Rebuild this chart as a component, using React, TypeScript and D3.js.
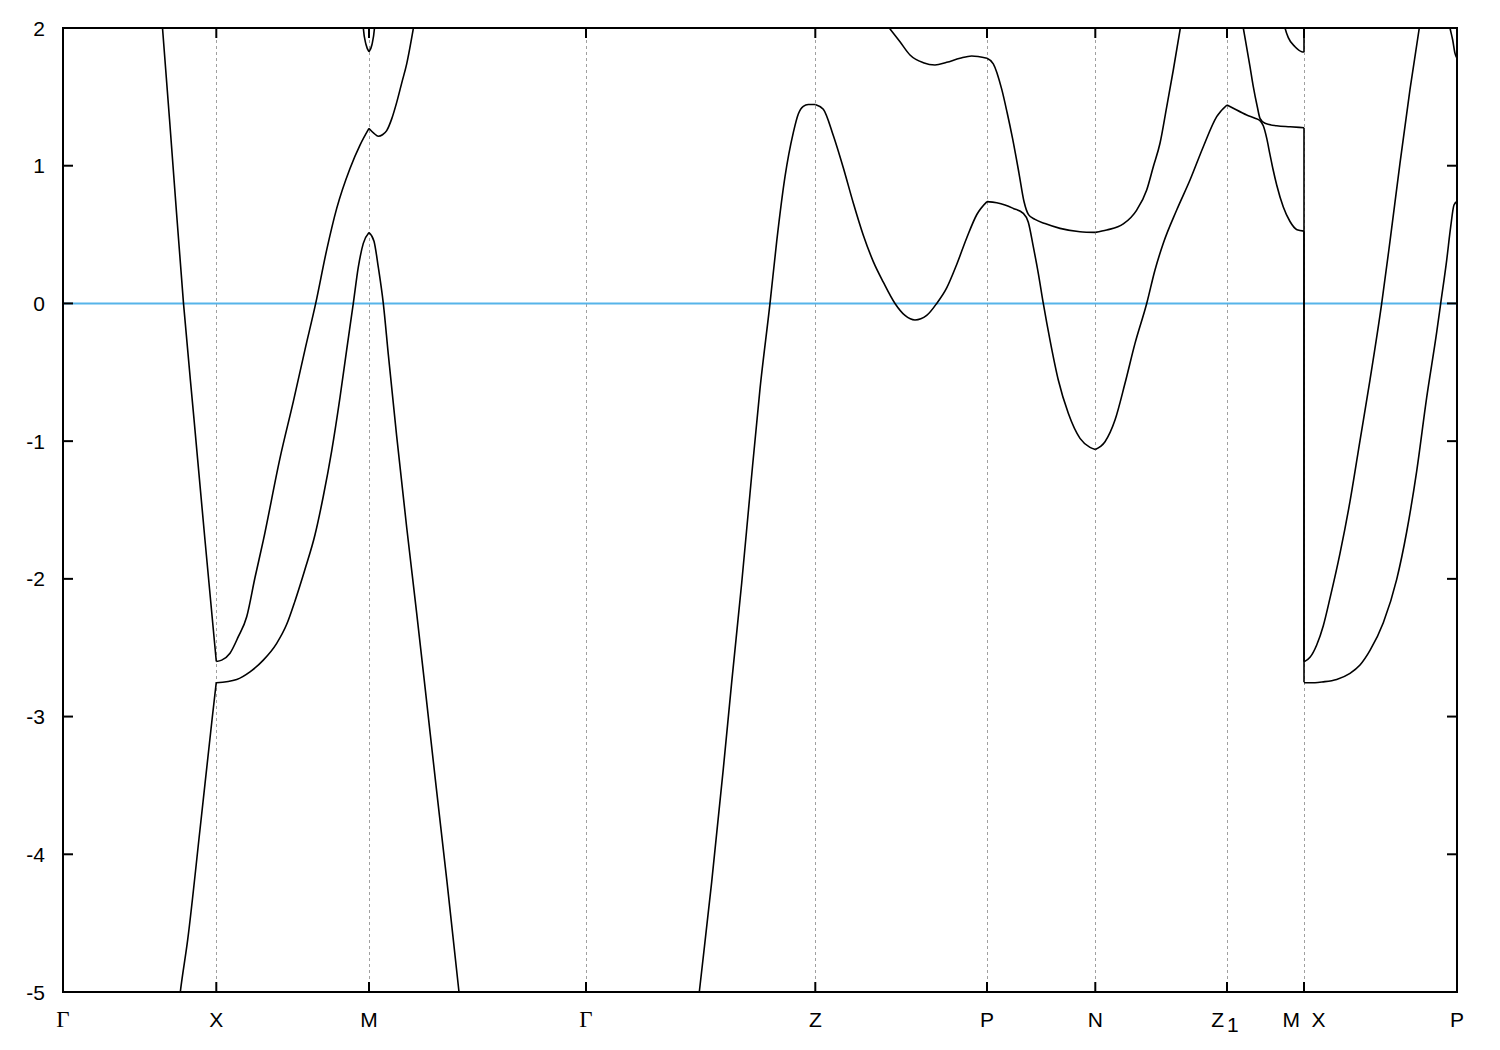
import React from "react";
import * as d3 from "d3";

// k-path tick positions and labels
const tickPos = [0, 1.533, 3.06, 5.23, 7.523, 9.24, 10.323, 11.64, 12.41, 13.94];
const tickLabels = ["Γ", "X", "M", "Γ", "Z", "P", "N", "Z_1", "M  X", "P"];
const yTicks = [-5, -4, -3, -2, -1, 0, 1, 2];
const kMax = 13.94;
const eMin = -5;
const eMax = 2;
const fermi = 0;

type Pt = [number, number];

// Γ → X
const bandsGX: Pt[][] = [
  [[0.87, 3.0], [0.995, 2.0], [1.1, 1.0], [1.205, 0], [1.31, -0.84], [1.42, -1.72], [1.533, -2.6]],
  [[1.12, -5.35], [1.173, -5.0], [1.247, -4.62], [1.37, -3.82], [1.49, -3.025], [1.533, -2.75]],
];

// X → M
const bandsXM: Pt[][] = [
  [[1.533, -2.6], [1.587, -2.59], [1.67, -2.54], [1.753, -2.42], [1.837, -2.275], [1.92, -1.99], [2.003, -1.721],
   [2.17, -1.123], [2.303, -0.713], [2.42, -0.335], [2.527, 0], [2.637, 0.389], [2.737, 0.69], [2.87, 0.98],
   [2.97, 1.15], [3.06, 1.271]],
  [[1.533, -2.754], [1.737, -2.73], [1.87, -2.675], [2.003, -2.59], [2.137, -2.468], [2.237, -2.33], [2.32, -2.16],
   [2.42, -1.93], [2.52, -1.68], [2.603, -1.4], [2.687, -1.07], [2.77, -0.682], [2.837, -0.335], [2.903, 0],
   [2.953, 0.263], [3.003, 0.436], [3.06, 0.515]],
  [[2.98, 2.3], [3.003, 2.0], [3.03, 1.88], [3.06, 1.828]],
];

// M → Γ
const bandsMG: Pt[][] = [
  [[3.06, 1.271], [3.11, 1.235], [3.153, 1.214], [3.195, 1.225], [3.237, 1.255], [3.287, 1.34], [3.337, 1.46],
   [3.387, 1.6], [3.437, 1.74], [3.503, 1.995], [3.55, 2.2]],
  [[3.06, 0.515], [3.11, 0.452], [3.153, 0.263], [3.203, 0], [3.253, -0.37], [3.337, -0.965], [3.437, -1.627],
   [3.537, -2.25], [3.63, -2.85], [3.73, -3.5], [3.84, -4.2], [3.96, -5.0], [4.03, -5.45]],
  [[3.06, 1.828], [3.09, 1.88], [3.115, 2.0], [3.14, 2.3]],
];

// Γ → Z
const bandsGZ: Pt[][] = [
  [[6.31, -5.35], [6.363, -5.0], [6.487, -4.2], [6.603, -3.38], [6.687, -2.75], [6.787, -2.03], [6.87, -1.38],
   [6.97, -0.62], [7.07, 0], [7.137, 0.45], [7.22, 0.92], [7.303, 1.24], [7.353, 1.375], [7.403, 1.431],
   [7.453, 1.444], [7.523, 1.445]],
];

// Z → P
const bandsZP: Pt[][] = [
  [[7.523, 1.445], [7.603, 1.41], [7.703, 1.219], [7.803, 0.985], [7.903, 0.729], [8.003, 0.495], [8.103, 0.304],
   [8.203, 0.155], [8.32, 0], [8.42, -0.087], [8.52, -0.12], [8.637, -0.087], [8.737, 0], [8.837, 0.113],
   [8.937, 0.283], [9.037, 0.475], [9.137, 0.644], [9.24, 0.739]],
  [[8.17, 2.09], [8.263, 2.0], [8.37, 1.9], [8.47, 1.804], [8.603, 1.748], [8.72, 1.731], [8.837, 1.751],
   [8.97, 1.78], [9.087, 1.797], [9.24, 1.78]],
];

// P → N
const bandsPN: Pt[][] = [
  [[9.24, 1.78], [9.303, 1.74], [9.387, 1.556], [9.44, 1.39], [9.495, 1.2], [9.56, 0.945], [9.61, 0.74],
   [9.655, 0.645], [9.72, 0.61], [9.82, 0.58], [9.97, 0.545], [10.17, 0.521], [10.323, 0.516]],
  [[9.24, 0.739], [9.337, 0.731], [9.42, 0.715], [9.503, 0.69], [9.603, 0.654], [9.653, 0.59], [9.703, 0.412],
   [9.753, 0.219], [9.803, 0], [9.87, -0.266], [9.953, -0.556], [10.053, -0.798], [10.17, -0.98],
   [10.27, -1.045], [10.323, -1.06]],
];

// N → Z1
const bandsNZ1: Pt[][] = [
  [[10.323, -1.06], [10.42, -1.004], [10.52, -0.847], [10.62, -0.58], [10.72, -0.29], [10.837, 0], [10.92, 0.243],
   [11.003, 0.437], [11.137, 0.678], [11.27, 0.896], [11.403, 1.138], [11.537, 1.356], [11.64, 1.441]],
  [[10.323, 0.516], [10.437, 0.533], [10.603, 0.577], [10.737, 0.678], [10.837, 0.824], [10.903, 0.993],
   [10.97, 1.163], [11.037, 1.428], [11.103, 1.695], [11.17, 1.985], [11.2, 2.12]],
];

// Z1 → M
const bandsZ1M: Pt[][] = [
  [[11.64, 1.441], [11.703, 1.417], [11.837, 1.368], [11.92, 1.345], [11.97, 1.327], [12.003, 1.29],
   [12.037, 1.2], [12.07, 1.08], [12.103, 0.965], [12.137, 0.86], [12.203, 0.7], [12.27, 0.595],
   [12.34, 0.535], [12.41, 0.525]],
  [[11.76, 2.18], [11.803, 2.0], [11.87, 1.72], [11.903, 1.574], [11.943, 1.428], [11.97, 1.344], [12.02, 1.308],
   [12.137, 1.29], [12.27, 1.283], [12.41, 1.276]],
  [[12.19, 2.1], [12.22, 2.0], [12.253, 1.93], [12.32, 1.864], [12.387, 1.828], [12.41, 1.826]],
];

// connecting jumps at the M | X discontinuity
const jumpsMX: Pt[][] = [
  [[12.41, 1.276], [12.41, -2.6]],
  [[12.41, 0.525], [12.41, -2.75]],
  [[12.41, 1.826], [12.41, 2.5]],
];

// X → P
const bandsXP: Pt[][] = [
  [[12.41, -2.603], [12.47, -2.57], [12.537, -2.48], [12.603, -2.34], [12.67, -2.14], [12.77, -1.815],
   [12.87, -1.438], [12.97, -0.996], [13.07, -0.555], [13.187, 0], [13.27, 0.452], [13.37, 1.019],
   [13.47, 1.554], [13.563, 2.0], [13.62, 2.3]],
  [[12.41, -2.754], [12.52, -2.754], [12.603, -2.748], [12.737, -2.73], [12.87, -2.686], [12.97, -2.626],
   [13.07, -2.52], [13.203, -2.319], [13.337, -2.004], [13.437, -1.658], [13.537, -1.217], [13.637, -0.682],
   [13.737, -0.209], [13.777, 0], [13.837, 0.315], [13.877, 0.557], [13.91, 0.715], [13.94, 0.74]],
  [[13.84, 2.12], [13.87, 2.0], [13.897, 1.913], [13.92, 1.816], [13.94, 1.78]],
];

const allSegments = [bandsGX, bandsXM, bandsMG, bandsGZ, bandsZP, bandsPN, bandsNZ1, bandsZ1M, bandsXP];

const W = 1500;
const H = 1050;
const L = 63, R = 1457, T = 28, B = 992;
const FONT = "'Liberation Sans', Arial, Helvetica, sans-serif";
const FS = 21;

export default function App() {
  const x = d3.scaleLinear().domain([0, kMax]).range([L, R]);
  const y = d3.scaleLinear().domain([eMin, eMax]).range([B, T]);
  const smooth = d3.line<Pt>().x((d) => x(d[0])).y((d) => y(d[1])).curve(d3.curveMonotoneX);
  const straight = d3.line<Pt>().x((d) => x(d[0])).y((d) => y(d[1]));
  const tickLen = 10;

  const renderLabel = (lab: string, i: number) => {
    const px = x(tickPos[i]);
    const py = 1027;
    if (lab === "Γ") {
      return (
        <text key={i} x={px} y={py} textAnchor="middle" fontFamily="'Liberation Serif', 'Times New Roman', serif" fontSize={23}>
          Γ
        </text>
      );
    }
    if (lab.includes("_")) {
      const [main, sub] = lab.split("_");
      return (
        <text key={i} x={px - 2} y={py} textAnchor="middle" fontFamily={FONT} fontSize={FS}>
          {main}
          <tspan dx={3} dy={5}>{sub}</tspan>
        </text>
      );
    }
    return (
      <text key={i} x={px} y={py} textAnchor="middle" fontFamily={FONT} fontSize={FS} style={{ whiteSpace: "pre" }}>
        {lab}
      </text>
    );
  };

  return (
    <svg width={W} height={H} style={{ position: "absolute", left: 0, top: 0, background: "#fff" }}>
      <defs>
        <clipPath id="plotclip">
          <rect x={L} y={T} width={R - L} height={B - T} />
        </clipPath>
      </defs>
      <rect x={0} y={0} width={W} height={H} fill="#fff" />
      {/* grid */}
      {tickPos.slice(1, -1).map((k, i) => (
        <line key={"g" + i} x1={Math.round(x(k)) + 0.5} x2={Math.round(x(k)) + 0.5} y1={T} y2={B}
          stroke="#a0a0a0" strokeWidth={1} strokeDasharray="3,3" />
      ))}
      {/* Fermi level */}
      <line x1={L} x2={R} y1={y(fermi)} y2={y(fermi)} stroke="#56b4e9" strokeWidth={2} />
      {/* bands */}
      <g clipPath="url(#plotclip)" fill="none" stroke="#000" strokeWidth={1.6} strokeLinejoin="round">
        {allSegments.map((seg, si) =>
          seg.map((band, bi) => <path key={si + "-" + bi} d={smooth(band) || ""} />)
        )}
        {jumpsMX.map((j, i) => (
          <path key={"j" + i} d={straight(j) || ""} />
        ))}
      </g>
      {/* ticks */}
      <g stroke="#000" strokeWidth={2}>
        {yTicks.map((v) => (
          <g key={"yt" + v}>
            <line x1={L} x2={L + tickLen} y1={y(v)} y2={y(v)} />
            <line x1={R} x2={R - tickLen} y1={y(v)} y2={y(v)} />
          </g>
        ))}
        {tickPos.map((k, i) => (
          <g key={"xt" + i}>
            <line x1={x(k)} x2={x(k)} y1={B} y2={B - tickLen} />
            <line x1={x(k)} x2={x(k)} y1={T} y2={T + tickLen} />
          </g>
        ))}
      </g>
      {/* border */}
      <rect x={L} y={T} width={R - L} height={B - T} fill="none" stroke="#000" strokeWidth={2} />
      {/* y labels */}
      {yTicks.map((v) => (
        <text key={"yl" + v} x={45} y={y(v) + 7.5} textAnchor="end" fontFamily={FONT} fontSize={FS}>
          {String(v)}
        </text>
      ))}
      {/* x labels */}
      {tickLabels.map((lab, i) => renderLabel(lab, i))}
    </svg>
  );
}
